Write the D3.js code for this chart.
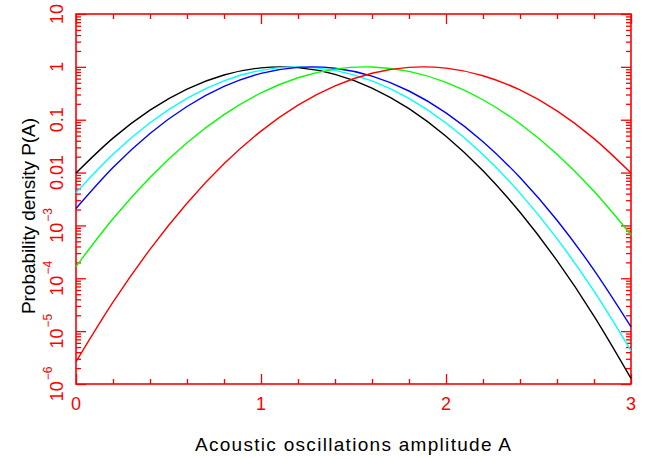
<!DOCTYPE html>
<html>
<head>
<meta charset="utf-8">
<script src="https://cdn.jsdelivr.net/npm/d3@7"></script>
<style>
  html, body { margin: 0; padding: 0; background: #fff; }
  svg { display: block; }
  text { font-family: "Liberation Sans", Arial, sans-serif; }
</style>
</head>
<body>
<svg id="chart" width="650" height="459"></svg>
<script>
// ---- data ----
const amplitude = [0, 0.2, 0.4, 0.6, 0.8, 1.0, 1.2, 1.4, 1.6, 1.8, 2.0, 2.2, 2.4, 2.6, 2.8, 3.0];

const blackSeries = [0.00977, 0.0448, 0.1518, 0.3796, 0.7019, 0.9584, 0.9671, 0.7211, 0.3972, 0.1617, 0.04863, 0.0108, 0.001774, 2.152e-4, 1.929e-5, 1.277e-6];
const cyanSeries  = [0.004163, 0.02225, 0.08766, 0.2545, 0.5449, 0.86, 1.0, 0.8572, 0.5415, 0.2522, 0.0866, 0.02191, 0.004088, 5.618e-4, 5.692e-5, 4.252e-6];
const blueSeries  = [0.002091, 0.01246, 0.05481, 0.1778, 0.4256, 0.7516, 0.9794, 0.9414, 0.6675, 0.3493, 0.1348, 0.0384, 0.008066, 0.001251, 1.43e-4, 1.207e-5];
const greenSeries = [1.663e-4, 0.001334, 0.008049, 0.03656, 0.125, 0.3217, 0.6229, 0.9079, 0.9957, 0.822, 0.5105, 0.2386, 0.08398, 0.02224, 0.004432, 6.646e-4];
const redSeries   = [2.634e-6, 3.527e-5, 3.526e-4, 0.002632, 0.01466, 0.06095, 0.1891, 0.4385, 0.7586, 0.9797, 0.9445, 0.6799, 0.3651, 0.1465, 0.04386, 0.009806];

const seriesColors = ["#000000", "#00ffff", "#0000ff", "#00ff00", "#ff0000"];

const xTicks = [0, 1, 2, 3];
const xTickLabels = ["0", "1", "2", "3"];
const yTicks = [10, 1, 0.1, 0.01, 1e-3, 1e-4, 1e-5, 1e-6];
const yTickBase = ["10", "1", "0.1", "0.01", "10", "10", "10", "10"];
const yTickExp  = ["", "", "", "", "\u22123", "\u22124", "\u22125", "\u22126"];

const xTitle = "Acoustic oscillations amplitude A";
const yTitle = "Probability density P(A)";

// ---- layout ----
const svg = d3.select("#chart");
const L = 76, R = 631, T = 14, B = 384;
const axisColor = "#ff0000";

const x = d3.scaleLinear().domain([0, 3]).range([L, R]);
const y = d3.scaleLog().domain([1e-6, 10]).range([B, T]);

// minor tick values
const xMinor = d3.range(0, 3.0001, 0.2).filter(v => Math.abs(v - Math.round(v)) > 1e-6);
const yMinor = [];
for (let e = -6; e < 1; e++) for (let m = 2; m <= 9; m++) yMinor.push(m * Math.pow(10, e));

function styleAxis(g) {
  g.select(".domain").remove();
  g.selectAll(".tick line").attr("stroke", axisColor).attr("stroke-width", 1.3);
  g.selectAll(".tick text").remove();
}

// bottom & top
svg.append("g").attr("transform", `translate(0,${B})`)
  .call(d3.axisBottom(x).tickValues(xTicks).tickSize(-10).tickSizeOuter(0)).call(styleAxis);
svg.append("g").attr("transform", `translate(0,${B})`)
  .call(d3.axisBottom(x).tickValues(xMinor).tickSize(-5).tickSizeOuter(0)).call(styleAxis);
svg.append("g").attr("transform", `translate(0,${T})`)
  .call(d3.axisTop(x).tickValues(xTicks).tickSize(-10).tickSizeOuter(0)).call(styleAxis);
svg.append("g").attr("transform", `translate(0,${T})`)
  .call(d3.axisTop(x).tickValues(xMinor).tickSize(-5).tickSizeOuter(0)).call(styleAxis);
// left & right
svg.append("g").attr("transform", `translate(${L},0)`)
  .call(d3.axisLeft(y).tickValues(yTicks).tickSize(-10).tickSizeOuter(0)).call(styleAxis);
svg.append("g").attr("transform", `translate(${L},0)`)
  .call(d3.axisLeft(y).tickValues(yMinor).tickSize(-5).tickSizeOuter(0)).call(styleAxis);
svg.append("g").attr("transform", `translate(${R},0)`)
  .call(d3.axisRight(y).tickValues(yTicks).tickSize(-10).tickSizeOuter(0)).call(styleAxis);
svg.append("g").attr("transform", `translate(${R},0)`)
  .call(d3.axisRight(y).tickValues(yMinor).tickSize(-5).tickSizeOuter(0)).call(styleAxis);

// frame
svg.append("rect").attr("x", L).attr("y", T).attr("width", R - L).attr("height", B - T)
  .attr("fill", "none").attr("stroke", axisColor).attr("stroke-width", 1.6);

// curves
const allSeries = [blackSeries, cyanSeries, blueSeries, greenSeries, redSeries];
const line = d3.line()
  .x((d, i) => x(amplitude[i]))
  .y(d => y(d))
  .curve(d3.curveCatmullRom.alpha(0));
svg.append("g").selectAll("path").data(allSeries).join("path")
  .attr("d", d => line(d))
  .attr("fill", "none")
  .attr("stroke", (d, i) => seriesColors[i])
  .attr("stroke-width", 1.4);

// x tick labels
svg.append("g").selectAll("text").data(xTicks).join("text")
  .attr("x", d => x(d)).attr("y", 410)
  .attr("text-anchor", "middle")
  .attr("font-size", 18)
  .attr("fill", axisColor)
  .text((d, i) => xTickLabels[i]);

// y tick labels (rotated)
const yl = svg.append("g").selectAll("text").data(yTicks).join("text")
  .attr("transform", d => `translate(63,${y(d)}) rotate(-90)`)
  .attr("text-anchor", "middle")
  .attr("font-size", 18)
  .attr("fill", axisColor);
yl.append("tspan").text((d, i) => yTickBase[i]);
yl.filter((d, i) => yTickExp[i] !== "").append("tspan")
  .attr("dy", -11).attr("font-size", 12).attr("dx", 1)
  .text((d, i) => yTickExp[yTicks.indexOf(d)]);

// titles
svg.append("text")
  .attr("x", 353).attr("y", 451)
  .attr("text-anchor", "middle")
  .attr("font-size", 19)
  .attr("textLength", 316).attr("lengthAdjust", "spacing")
  .attr("fill", "#000")
  .text(xTitle);

svg.append("text")
  .attr("transform", "translate(35,216) rotate(-90)")
  .attr("text-anchor", "middle")
  .attr("font-size", 19)
  .attr("textLength", 196).attr("lengthAdjust", "spacing")
  .attr("fill", "#000")
  .text(yTitle);
</script>
</body>
</html>
